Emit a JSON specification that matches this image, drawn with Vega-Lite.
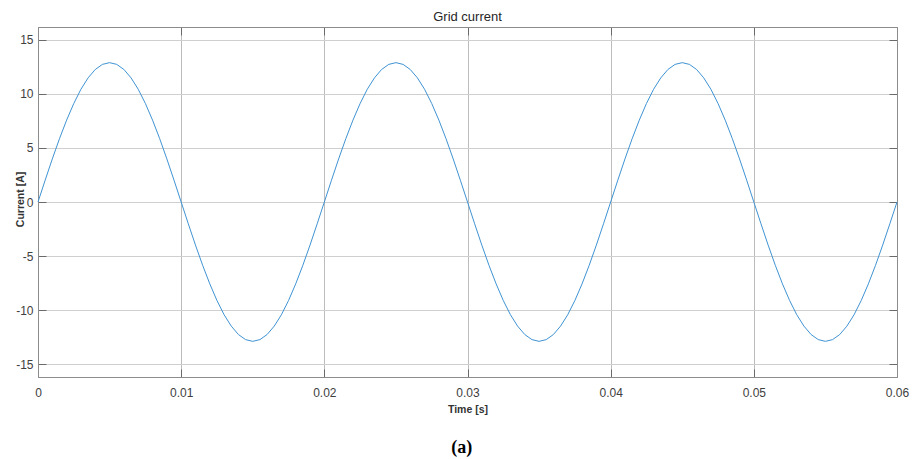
{
  "$schema": "https://vega.github.io/schema/vega-lite/v6.json",
  "padding": {"left": 15, "top": 10, "right": 6, "bottom": 3},
  "background": "white",
  "config": {
    "font": "Liberation Sans",
    "view": {"stroke": null},
    "axis": {
      "labelFont": "Liberation Sans",
      "labelFontSize": 12,
      "labelColor": "#404040",
      "labelFlush": false,
      "titleFont": "Liberation Sans",
      "titleFontSize": 10.5,
      "titleFontWeight": "bold",
      "titleColor": "#333333",
      "domainColor": "#8c8c8c",
      "domainWidth": 1,
      "tickColor": "#6a6a6a",
      "tickSize": -8,
      "gridWidth": 1
    },
    "title": {"font": "Liberation Sans", "fontSize": 13, "fontWeight": "normal", "color": "#262626"}
  },
  "title": {"text": "(a)", "orient": "bottom", "anchor": "middle", "font": "Liberation Serif", "fontSize": 18, "fontWeight": "bold", "color": "#000000", "offset": 24},
  "datasets": {
    "grid_current": [
      {"t": 0.0000, "i": 0}, {"t": 0.0005, "i": 2.02}, {"t": 0.0010, "i": 3.99}, {"t": 0.0015, "i": 5.86}, {"t": 0.0020, "i": 7.58},
      {"t": 0.0025, "i": 9.12}, {"t": 0.0030, "i": 10.44}, {"t": 0.0035, "i": 11.49}, {"t": 0.0040, "i": 12.27}, {"t": 0.0045, "i": 12.74},
      {"t": 0.0050, "i": 12.9}, {"t": 0.0055, "i": 12.74}, {"t": 0.0060, "i": 12.27}, {"t": 0.0065, "i": 11.49}, {"t": 0.0070, "i": 10.44},
      {"t": 0.0075, "i": 9.12}, {"t": 0.0080, "i": 7.58}, {"t": 0.0085, "i": 5.86}, {"t": 0.0090, "i": 3.99}, {"t": 0.0095, "i": 2.02},
      {"t": 0.0100, "i": 0}, {"t": 0.0105, "i": -2.02}, {"t": 0.0110, "i": -3.99}, {"t": 0.0115, "i": -5.86}, {"t": 0.0120, "i": -7.58},
      {"t": 0.0125, "i": -9.12}, {"t": 0.0130, "i": -10.44}, {"t": 0.0135, "i": -11.49}, {"t": 0.0140, "i": -12.27}, {"t": 0.0145, "i": -12.74},
      {"t": 0.0150, "i": -12.9}, {"t": 0.0155, "i": -12.74}, {"t": 0.0160, "i": -12.27}, {"t": 0.0165, "i": -11.49}, {"t": 0.0170, "i": -10.44},
      {"t": 0.0175, "i": -9.12}, {"t": 0.0180, "i": -7.58}, {"t": 0.0185, "i": -5.86}, {"t": 0.0190, "i": -3.99}, {"t": 0.0195, "i": -2.02},
      {"t": 0.0200, "i": 0}, {"t": 0.0205, "i": 2.02}, {"t": 0.0210, "i": 3.99}, {"t": 0.0215, "i": 5.86}, {"t": 0.0220, "i": 7.58},
      {"t": 0.0225, "i": 9.12}, {"t": 0.0230, "i": 10.44}, {"t": 0.0235, "i": 11.49}, {"t": 0.0240, "i": 12.27}, {"t": 0.0245, "i": 12.74},
      {"t": 0.0250, "i": 12.9}, {"t": 0.0255, "i": 12.74}, {"t": 0.0260, "i": 12.27}, {"t": 0.0265, "i": 11.49}, {"t": 0.0270, "i": 10.44},
      {"t": 0.0275, "i": 9.12}, {"t": 0.0280, "i": 7.58}, {"t": 0.0285, "i": 5.86}, {"t": 0.0290, "i": 3.99}, {"t": 0.0295, "i": 2.02},
      {"t": 0.0300, "i": 0}, {"t": 0.0305, "i": -2.02}, {"t": 0.0310, "i": -3.99}, {"t": 0.0315, "i": -5.86}, {"t": 0.0320, "i": -7.58},
      {"t": 0.0325, "i": -9.12}, {"t": 0.0330, "i": -10.44}, {"t": 0.0335, "i": -11.49}, {"t": 0.0340, "i": -12.27}, {"t": 0.0345, "i": -12.74},
      {"t": 0.0350, "i": -12.9}, {"t": 0.0355, "i": -12.74}, {"t": 0.0360, "i": -12.27}, {"t": 0.0365, "i": -11.49}, {"t": 0.0370, "i": -10.44},
      {"t": 0.0375, "i": -9.12}, {"t": 0.0380, "i": -7.58}, {"t": 0.0385, "i": -5.86}, {"t": 0.0390, "i": -3.99}, {"t": 0.0395, "i": -2.02},
      {"t": 0.0400, "i": 0}, {"t": 0.0405, "i": 2.02}, {"t": 0.0410, "i": 3.99}, {"t": 0.0415, "i": 5.86}, {"t": 0.0420, "i": 7.58},
      {"t": 0.0425, "i": 9.12}, {"t": 0.0430, "i": 10.44}, {"t": 0.0435, "i": 11.49}, {"t": 0.0440, "i": 12.27}, {"t": 0.0445, "i": 12.74},
      {"t": 0.0450, "i": 12.9}, {"t": 0.0455, "i": 12.74}, {"t": 0.0460, "i": 12.27}, {"t": 0.0465, "i": 11.49}, {"t": 0.0470, "i": 10.44},
      {"t": 0.0475, "i": 9.12}, {"t": 0.0480, "i": 7.58}, {"t": 0.0485, "i": 5.86}, {"t": 0.0490, "i": 3.99}, {"t": 0.0495, "i": 2.02},
      {"t": 0.0500, "i": 0}, {"t": 0.0505, "i": -2.02}, {"t": 0.0510, "i": -3.99}, {"t": 0.0515, "i": -5.86}, {"t": 0.0520, "i": -7.58},
      {"t": 0.0525, "i": -9.12}, {"t": 0.0530, "i": -10.44}, {"t": 0.0535, "i": -11.49}, {"t": 0.0540, "i": -12.27}, {"t": 0.0545, "i": -12.74},
      {"t": 0.0550, "i": -12.9}, {"t": 0.0555, "i": -12.74}, {"t": 0.0560, "i": -12.27}, {"t": 0.0565, "i": -11.49}, {"t": 0.0570, "i": -10.44},
      {"t": 0.0575, "i": -9.12}, {"t": 0.0580, "i": -7.58}, {"t": 0.0585, "i": -5.86}, {"t": 0.0590, "i": -3.99}, {"t": 0.0595, "i": -2.02},
      {"t": 0.0600, "i": 0}
    ]
  },
  "vconcat": [
    {
      "title": {"text": "Grid current", "anchor": "middle", "offset": 3},
      "width": 859,
      "height": 350,
      "data": {"name": "grid_current"},
      "layer": [
        {
          "mark": {"type": "line", "color": "#3f93d3", "strokeWidth": 1, "interpolate": "linear"},
          "encoding": {
            "x": {
              "field": "t", "type": "quantitative",
              "scale": {"domain": [0, 0.06], "nice": false, "zero": false},
              "axis": {
                "title": "Time [s]",
                "values": [0, 0.01, 0.02, 0.03, 0.04, 0.05, 0.06],
                "labelExpr": "toString(datum.value)",
                "labelPadding": 18,
                "titlePadding": 6,
                "grid": true,
                "gridColor": "#bcbcbc"
              }
            },
            "y": {
              "field": "i", "type": "quantitative",
              "scale": {"domain": [-16.2, 16.2], "nice": false, "zero": false},
              "axis": {
                "title": "Current [A]",
                "values": [-15, -10, -5, 0, 5, 10, 15],
                "labelExpr": "toString(datum.value)",
                "labelPadding": 13,
                "titleX": -13,
                "titleY": 172,
                "titleAngle": -90,
                "titleAlign": "center",
                "titleBaseline": "bottom",
                "grid": true,
                "gridColor": "#cfcfcf"
              }
            }
          }
        },
        {
          "mark": {"type": "line", "opacity": 0},
          "encoding": {
            "x": {
              "field": "t", "type": "quantitative",
              "axis": {"orient": "top", "title": null, "labels": false, "grid": false, "values": [0, 0.01, 0.02, 0.03, 0.04, 0.05, 0.06]}
            },
            "y": {
              "field": "i", "type": "quantitative",
              "axis": {"orient": "right", "title": null, "labels": false, "grid": false, "values": [-15, -10, -5, 0, 5, 10, 15]}
            }
          }
        }
      ],
      "resolve": {"axis": {"x": "independent", "y": "independent"}}
    }
  ]
}
